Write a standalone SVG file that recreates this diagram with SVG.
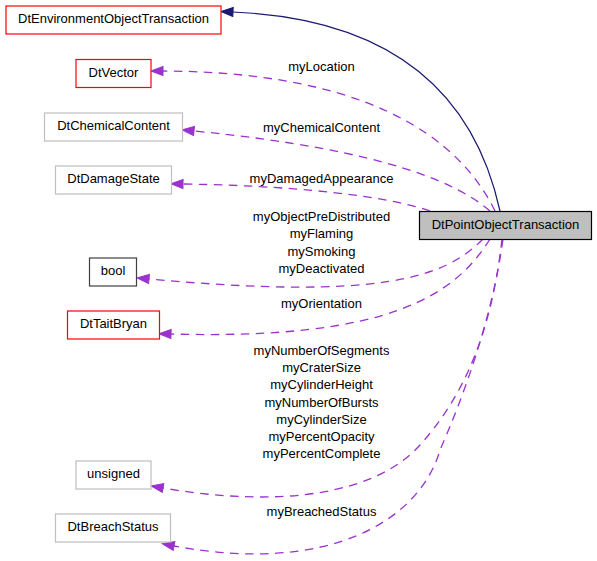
<svg xmlns="http://www.w3.org/2000/svg" width="597" height="561" viewBox="0 0 597 561">
<style>
  text { font-family: "Liberation Sans", Arial, sans-serif; font-size: 13px; fill: #000; }
  .node text { text-anchor: middle; }
  .lbl { text-anchor: middle; }
  .box { fill: #fff; stroke-width: 1.2; }
  .red { stroke: #ff0000; }
  .grey { stroke: #bfbfbf; }
  .dark { stroke: #404040; }
  .edge { fill: none; stroke: #9a32cd; stroke-width: 1.3; stroke-dasharray: 8.5,6.5; }
  .inh { fill: none; stroke: #191970; stroke-width: 1.2; }
</style>
<defs>
  <marker id="ap" markerUnits="userSpaceOnUse" markerWidth="13" markerHeight="11" refX="0" refY="5" orient="auto" overflow="visible">
    <path d="M0,0.5 L12,5 L0,9.5 Z" fill="#9a32cd" stroke="#9a32cd" stroke-width="1"/>
  </marker>
  <marker id="an" markerUnits="userSpaceOnUse" markerWidth="13" markerHeight="11" refX="0" refY="5" orient="auto" overflow="visible">
    <path d="M0,0.5 L12,5 L0,9.5 Z" fill="#191970" stroke="#191970" stroke-width="1"/>
  </marker>
</defs>
<rect width="597" height="561" fill="#fff"/>
<g id="edges">
  <path class="inh" d="M500,211 C480,120 420,20 233,12" marker-end="url(#an)"/>
  <path class="edge" d="M495,211 C470,160 400,72 163,71" marker-end="url(#ap)"/>
  <path class="edge" d="M490,211 C460,185 390,150 194,131" marker-end="url(#ap)"/>
  <path class="edge" d="M430,211 C400,200 320,186 183,184" marker-end="url(#ap)"/>
  <path class="edge" d="M483,239 C445,278 380,300 149,279" marker-end="url(#ap)"/>
  <path class="edge" d="M490,239 C455,295 390,340 171,334" marker-end="url(#ap)"/>
  <path class="edge" d="M502,239 C492,330 465,395 420,445 C375,495 280,508 163,488" marker-end="url(#ap)"/>
  <path class="edge" d="M503,239 C492,320 462,400 440,450 C420,520 330,575 174,546" marker-end="url(#ap)"/>
  <text class="lbl" x="321.5" y="71">myLocation</text>
  <text class="lbl" x="321.5" y="132">myChemicalContent</text>
  <text class="lbl" x="321.5" y="183">myDamagedAppearance</text>
  <text class="lbl" x="321.5" y="220.5">myObjectPreDistributed</text>
  <text class="lbl" x="321.5" y="238">myFlaming</text>
  <text class="lbl" x="321.5" y="255.5">mySmoking</text>
  <text class="lbl" x="321.5" y="273">myDeactivated</text>
  <text class="lbl" x="321.5" y="307.5">myOrientation</text>
  <text class="lbl" x="321.5" y="355">myNumberOfSegments</text>
  <text class="lbl" x="321.5" y="372.2">myCraterSize</text>
  <text class="lbl" x="321.5" y="389.4">myCylinderHeight</text>
  <text class="lbl" x="321.5" y="406.6">myNumberOfBursts</text>
  <text class="lbl" x="321.5" y="423.8">myCylinderSize</text>
  <text class="lbl" x="321.5" y="441">myPercentOpacity</text>
  <text class="lbl" x="321.5" y="458.2">myPercentComplete</text>
  <text class="lbl" x="321.5" y="515.7">myBreachedStatus</text>
</g>
<g id="DtPointObjectTransaction" class="node">
  <rect x="419.5" y="211.5" width="172" height="28" fill="#bfbfbf" stroke="#000" stroke-width="1.2"/>
  <text x="505.5" y="228.5">DtPointObjectTransaction</text>
</g>
<g id="DtEnvironmentObjectTransaction" class="node">
  <rect class="box red" x="6" y="6" width="215" height="28"/>
  <text x="113.5" y="23">DtEnvironmentObjectTransaction</text>
</g>
<g id="DtVector" class="node">
  <rect class="box red" x="76" y="59.5" width="75" height="28"/>
  <text x="113.5" y="76.5">DtVector</text>
</g>
<g id="DtChemicalContent" class="node">
  <rect class="box grey" x="44.5" y="113" width="138" height="28"/>
  <text x="113.5" y="130">DtChemicalContent</text>
</g>
<g id="DtDamageState" class="node">
  <rect class="box grey" x="55.5" y="166" width="116" height="28"/>
  <text x="113.5" y="183">DtDamageState</text>
</g>
<g id="bool" class="node">
  <rect class="box dark" x="89.5" y="258" width="47" height="28"/>
  <text x="113" y="275">bool</text>
</g>
<g id="DtTaitBryan" class="node">
  <rect class="box red" x="67.5" y="311" width="92" height="28"/>
  <text x="113.5" y="328">DtTaitBryan</text>
</g>
<g id="unsigned" class="node">
  <rect class="box grey" x="76" y="461" width="75" height="28"/>
  <text x="113.5" y="478">unsigned</text>
</g>
<g id="DtBreachStatus" class="node">
  <rect class="box grey" x="55.5" y="514" width="115" height="28"/>
  <text x="113" y="531">DtBreachStatus</text>
</g>
</svg>
